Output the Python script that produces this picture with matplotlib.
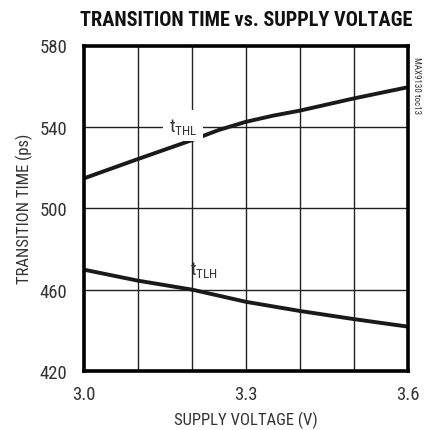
import matplotlib
matplotlib.use("Agg")
import matplotlib.pyplot as plt
from matplotlib import font_manager

names = {f.name for f in font_manager.fontManager.ttflist}
def pick(*cands):
    for c in cands:
        if c in names:
            return c
    return 'DejaVu Sans'
narrow = pick("Roboto Condensed", "Archivo Narrow", "PT Sans Narrow", "Liberation Sans")
titlef = pick("Roboto Condensed", "Archivo Narrow", "Liberation Sans")
plt.rcParams['font.family'] = [narrow, 'DejaVu Sans']
plt.rcParams['mathtext.fontset'] = 'custom'
plt.rcParams['mathtext.rm'] = narrow
plt.rcParams['mathtext.it'] = narrow

# data
voltage_thl = [3.0, 3.1, 3.2, 3.25, 3.3, 3.35, 3.4, 3.5, 3.6]
t_thl = [514.7, 524.2, 533.5, 538.5, 542.5, 545.5, 548.0, 554.0, 559.5]
voltage_tlh = [3.0, 3.1, 3.2, 3.3, 3.4, 3.5, 3.6]
t_tlh = [469.8, 464.4, 460.0, 454.0, 449.5, 445.5, 441.8]
x_ticks = [3.0, 3.3, 3.6]
x_ticklabels = ["3.0", "3.3", "3.6"]
y_ticks = [420, 460, 500, 540, 580]
x_grid = [3.1, 3.2, 3.3, 3.4, 3.5]

fig = plt.figure(figsize=(4.24, 4.31), dpi=100)
ax = fig.add_axes([84/424, (431-372)/431, (408-84)/424, (372-46.5)/431])
ax.set_xlim(3.0, 3.6)
ax.set_ylim(420, 580)

for xv in x_grid:
    ax.axvline(xv, color='#222222', lw=1.0, zorder=1)
for yv in y_ticks[1:-1]:
    ax.axhline(yv, color='#222222', lw=1.0, zorder=1)

ax.plot(voltage_thl, t_thl, color='#1a1a1a', lw=2.8, zorder=3, solid_capstyle='butt')
ax.plot(voltage_tlh, t_tlh, color='#1a1a1a', lw=2.8, zorder=3, solid_capstyle='butt')

ax.text(3.183, 540.5, r"t$_{\mathrm{THL}}$", fontsize=13.5, color='#333333', ha='center', va='center',
        zorder=4, bbox=dict(facecolor='white', edgecolor='none', pad=4))
ax.text(3.222, 470, r"t$_{\mathrm{TLH}}$", fontsize=13.5, color='#333333', ha='center', va='center', zorder=4)

ax.set_xticks(x_ticks)
ax.set_xticklabels(x_ticklabels)
ax.set_yticks(y_ticks)
ax.tick_params(length=0, labelsize=13.5, colors='#333333', pad=12)
ax.tick_params(axis='x', pad=10)
for s in ax.spines.values():
    s.set_linewidth(2.6)
    s.set_color('black')
    s.set_zorder(5)

ax.set_xlabel("SUPPLY VOLTAGE (V)", fontsize=12, color='#333333', labelpad=6)
ax.set_ylabel("TRANSITION TIME (ps)", fontsize=12, color='#333333', labelpad=5)

fig.text(246/424, 1 - 20/431, "TRANSITION TIME vs. SUPPLY VOLTAGE", fontsize=14.6,
         fontweight='heavy', family=[titlef, 'DejaVu Sans'], ha='center', va='center', color='#111111')
fig.text(416/424, 1 - 86/431, "MAX9130 toc13", fontsize=6.5, rotation=270,
         ha='center', va='center', color='#333333')

fig.savefig("out.png", dpi=100)
